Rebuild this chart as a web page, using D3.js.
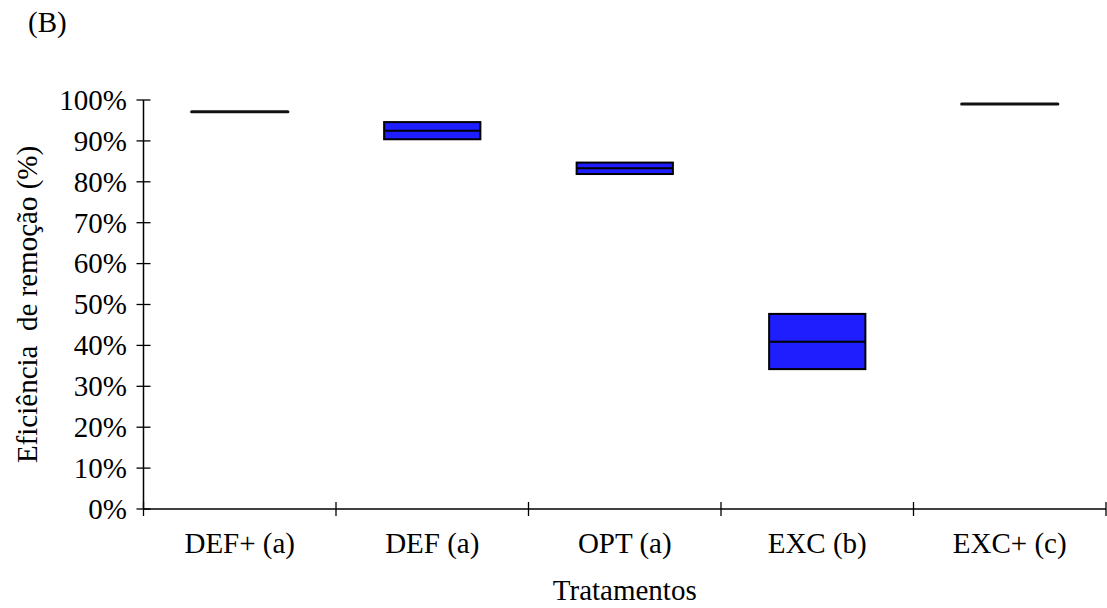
<!DOCTYPE html>
<html>
<head>
<meta charset="utf-8">
<script src="https://cdn.jsdelivr.net/npm/d3@7"></script>
<style>
  html, body { margin: 0; padding: 0; background: #fff; }
  svg { display: block; }
  svg text { font-family: "Liberation Serif", "DejaVu Serif", serif; fill: #000; }
</style>
</head>
<body>
<svg id="chart" width="1107" height="608"></svg>
<script>
// ---- data ----
const categories = ["DEF+ (a)", "DEF (a)", "OPT (a)", "EXC (b)", "EXC+ (c)"];
const q1Values     = [0.970, 0.904, 0.819, 0.342, 0.989];
const medianValues = [0.971, 0.925, 0.833, 0.409, 0.990];
const q3Values     = [0.972, 0.946, 0.847, 0.477, 0.991];
const yTickValues  = [0, 0.1, 0.2, 0.3, 0.4, 0.5, 0.6, 0.7, 0.8, 0.9, 1.0];
const titleText = "(B)";
const xTitle = "Tratamentos";
const yTitle = "Eficiência  de remoção (%)";

(function () {
// ---- layout ----
const svg = d3.select("#chart");
const pLeft = 143.5, pRight = 1106, pTop = 100, pBottom = 509;
const fontSize = 29;
const fontFam = "'Liberation Serif', 'DejaVu Serif', serif";
const boxFill = "rgb(30,30,255)";

const x = d3.scaleBand().domain(categories).range([pLeft, pRight])
  .paddingInner(0.5).paddingOuter(0.25);
const y = d3.scaleLinear().domain([0, 1]).range([pBottom, pTop]);

const data = categories.map((c, i) => ({
  cat: c, q1: q1Values[i], med: medianValues[i], q3: q3Values[i]
}));

// boxes
const g = svg.append("g");
data.forEach(d => {
  const x0 = x(d.cat), w = x.bandwidth();
  const flat = (y(d.q1) - y(d.q3)) < 2;
  if (flat) {
    g.append("line")
      .attr("x1", x0).attr("x2", x0 + w)
      .attr("y1", y(d.med)).attr("y2", y(d.med))
      .attr("stroke", "#111").attr("stroke-width", 3)
      .attr("stroke-linecap", "round");
  } else {
    g.append("rect")
      .attr("x", x0).attr("y", y(d.q3))
      .attr("width", w).attr("height", y(d.q1) - y(d.q3))
      .attr("fill", boxFill).attr("stroke", "#000").attr("stroke-width", 2);
    g.append("line")
      .attr("x1", x0).attr("x2", x0 + w)
      .attr("y1", y(d.med)).attr("y2", y(d.med))
      .attr("stroke", "#000").attr("stroke-width", 2);
  }
});

// y axis
const yAxis = svg.append("g");
yAxis.append("line")
  .attr("x1", pLeft).attr("x2", pLeft)
  .attr("y1", y(0)).attr("y2", y(1))
  .attr("stroke", "#000").attr("stroke-width", 1.5);
yTickValues.forEach(v => {
  yAxis.append("line")
    .attr("x1", pLeft - 7).attr("x2", pLeft + 7)
    .attr("y1", y(v)).attr("y2", y(v))
    .attr("stroke", "#000").attr("stroke-width", 1.3);
  yAxis.append("text")
    .attr("x", pLeft - 16.5).attr("y", y(v))
    .attr("dy", "0.34em")
    .attr("text-anchor", "end")
    .attr("font-family", fontFam)
    .attr("font-size", fontSize)
    .text(d3.format(".0%")(v));
});

// x axis
const xAxis = svg.append("g");
xAxis.append("line")
  .attr("x1", pLeft).attr("x2", pRight)
  .attr("y1", y(0)).attr("y2", y(0))
  .attr("stroke", "#000").attr("stroke-width", 1.5);
const step = x.step();
const boundaries = d3.range(categories.length + 1).map(i => x(categories[0]) - step * 0.25 + i * step);
boundaries.forEach(bx => {
  xAxis.append("line")
    .attr("x1", bx).attr("x2", bx)
    .attr("y1", y(0) - 7).attr("y2", y(0) + 7)
    .attr("stroke", "#000").attr("stroke-width", 1.3);
});
categories.forEach(c => {
  xAxis.append("text")
    .attr("x", x(c) + x.bandwidth() / 2)
    .attr("y", y(0) + 44)
    .attr("text-anchor", "middle")
    .attr("font-family", fontFam)
    .attr("font-size", fontSize)
    .text(c);
});

// titles
svg.append("text")
  .attr("x", (pLeft + pRight) / 2).attr("y", 600)
  .attr("text-anchor", "middle")
  .attr("font-family", fontFam).attr("font-size", fontSize)
  .text(xTitle);

svg.append("text")
  .attr("transform", `translate(37,${(pTop + pBottom) / 2}) rotate(-90)`)
  .attr("text-anchor", "middle")
  .attr("font-family", fontFam).attr("font-size", fontSize)
  .attr("xml:space", "preserve").style("white-space", "pre")
  .text(yTitle);

svg.append("text")
  .attr("x", 28).attr("y", 32)
  .attr("font-family", fontFam).attr("font-size", fontSize)
  .text(titleText);
})();
</script>
</body>
</html>
